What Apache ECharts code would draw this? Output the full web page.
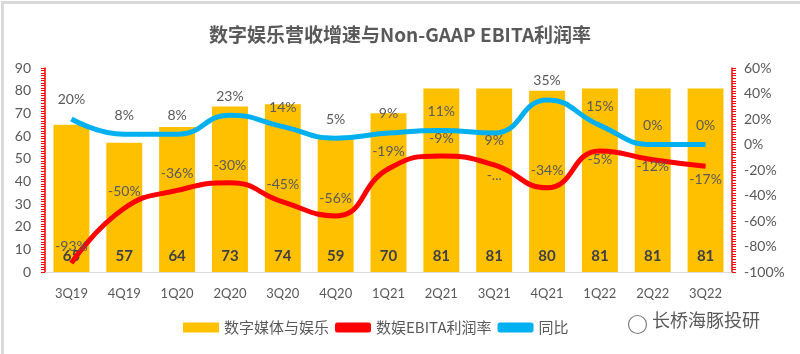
<!DOCTYPE html>
<html>
<head>
<meta charset="utf-8">
<script src="https://cdn.jsdelivr.net/npm/echarts@6/dist/echarts.min.js"></script>
<style>
  html, body { margin: 0; padding: 0; background: #fff; }
  #main { width: 800px; height: 354px; }
</style>
</head>
<body>
<div id="main"></div>
<script>
// 季度
var quarters = ['3Q19', '4Q19', '1Q20', '2Q20', '3Q20', '4Q20', '1Q21', '2Q21', '3Q21', '4Q21', '1Q22', '2Q22', '3Q22'];
// 数字媒体与娱乐 营收
var revenue = [65, 57, 64, 73, 74, 59, 70, 81, 81, 80, 81, 81, 81];
// 数娱EBITA利润率 (%)
var ebitaMargin = [-93, -50, -36, -30, -45, -56, -19, -9, -16, -34, -5, -12, -17];
// 同比 (%)
var yoy = [20, 8, 8, 23, 14, 5, 9, 11, 9, 35, 15, 0, 0];

var font = 'Lato, "Noto Sans CJK SC", sans-serif';
var chart = echarts.init(document.getElementById('main'));

// 个别数据标签放在线下方
var redBelow = { 8: 4, 10: 2, 11: 0, 12: 6 };
var blueBelow = { 8: 0 };
function withLabels(values, below) {
  return values.map(function (v, i) {
    if (below[i] === undefined) return v;
    return { value: v, label: { position: 'bottom', distance: below[i] } };
  });
}

var option = {
  backgroundColor: '#fff',
  title: {
    text: '数字娱乐营收增速与Non-GAAP EBITA利润率',
    left: 'center',
    top: 20,
    textStyle: { fontFamily: '"Noto Sans CJK SC", sans-serif', fontSize: 19, fontWeight: 'bold', color: '#595959' }
  },
  legend: {
    bottom: 14,
    left: 178,
    itemWidth: 36,
    itemHeight: 10,
    itemGap: 6,
    textStyle: { fontFamily: '"Noto Sans CJK SC", sans-serif', fontSize: 15, color: '#595959' },
    data: [
      { name: '数字媒体与娱乐', icon: 'rect' },
      { name: '数娱EBITA利润率', icon: 'roundRect' },
      { name: '同比', icon: 'roundRect' }
    ]
  },
  grid: { left: 45, right: 68, top: 68, bottom: 82 },
  xAxis: {
    type: 'category',
    data: quarters,
    axisLine: { lineStyle: { color: '#D9D9D9', width: 1 } },
    axisTick: { show: false },
    axisLabel: { color: '#595959', fontFamily: font, fontSize: 13, margin: 15 }
  },
  yAxis: [
    {
      type: 'value',
      min: 0, max: 90, interval: 10,
      axisLine: { show: true, lineStyle: { color: '#FF0000', width: 1.5 } },
      axisTick: { show: true, length: 4, lineStyle: { color: '#FF0000' } },
      minorTick: { show: true, splitNumber: 9, length: 4, lineStyle: { color: '#FF0000' } },
      splitLine: { show: false },
      axisLabel: { color: '#595959', fontFamily: font, fontSize: 14, margin: 14 }
    },
    {
      type: 'value',
      min: -100, max: 60, interval: 20,
      axisLine: { show: true, lineStyle: { color: '#FF0000', width: 1.5 } },
      axisTick: { show: true, length: 4, lineStyle: { color: '#FF0000' } },
      minorTick: { show: true, splitNumber: 10, length: 4, lineStyle: { color: '#FF0000' } },
      splitLine: { show: false },
      axisLabel: { color: '#595959', fontFamily: font, fontSize: 14, margin: 12, formatter: '{value}%' }
    }
  ],
  series: [
    {
      name: '数字媒体与娱乐',
      type: 'bar',
      data: revenue,
      barWidth: '68%',
      itemStyle: { color: '#FFC000' },
      label: {
        show: true, position: 'insideBottom', distance: 8,
        color: '#404040', fontFamily: font, fontWeight: 'bold', fontSize: 15
      }
    },
    {
      name: '数娱EBITA利润率',
      type: 'line',
      yAxisIndex: 1,
      data: withLabels(ebitaMargin, redBelow),
      smooth: 0.5,
      symbol: 'circle',
      symbolSize: 0.1,
      showSymbol: true,
      lineStyle: { color: '#FF0000', width: 5 },
      itemStyle: { color: '#FF0000' },
      label: {
        show: true, position: 'top', distance: 10,
        color: '#595959', fontFamily: font, fontSize: 14,
        formatter: function (p) { return p.dataIndex === 8 ? '-...' : p.value + '%'; }
      },
      z: 3
    },
    {
      name: '同比',
      type: 'line',
      yAxisIndex: 1,
      data: withLabels(yoy, blueBelow),
      smooth: 0.5,
      symbol: 'circle',
      symbolSize: 0.1,
      showSymbol: true,
      lineStyle: { color: '#00B0F0', width: 5 },
      itemStyle: { color: '#00B0F0' },
      label: {
        show: true, position: 'top', distance: 12,
        color: '#595959', fontFamily: font, fontSize: 14,
        formatter: '{c}%'
      },
      z: 3
    }
  ],
  graphic: [
    {
      type: 'rect', left: 0, top: 0, silent: true,
      shape: { width: 799, height: 353 },
      style: { fill: 'none', stroke: '#D9D9D9', lineWidth: 3 }
    },
    {
      type: 'text', left: 652, top: 311,
      style: { text: '长桥海豚投研', fill: '#595959', font: '18px "Noto Sans CJK SC", sans-serif' }
    },
    {
      type: 'circle', left: 626, top: 313, shape: { r: 9 },
      style: { fill: 'none', stroke: '#7F7F7F', lineWidth: 1.2 }
    }
  ]
};
chart.setOption(option);
</script>
</body>
</html>
